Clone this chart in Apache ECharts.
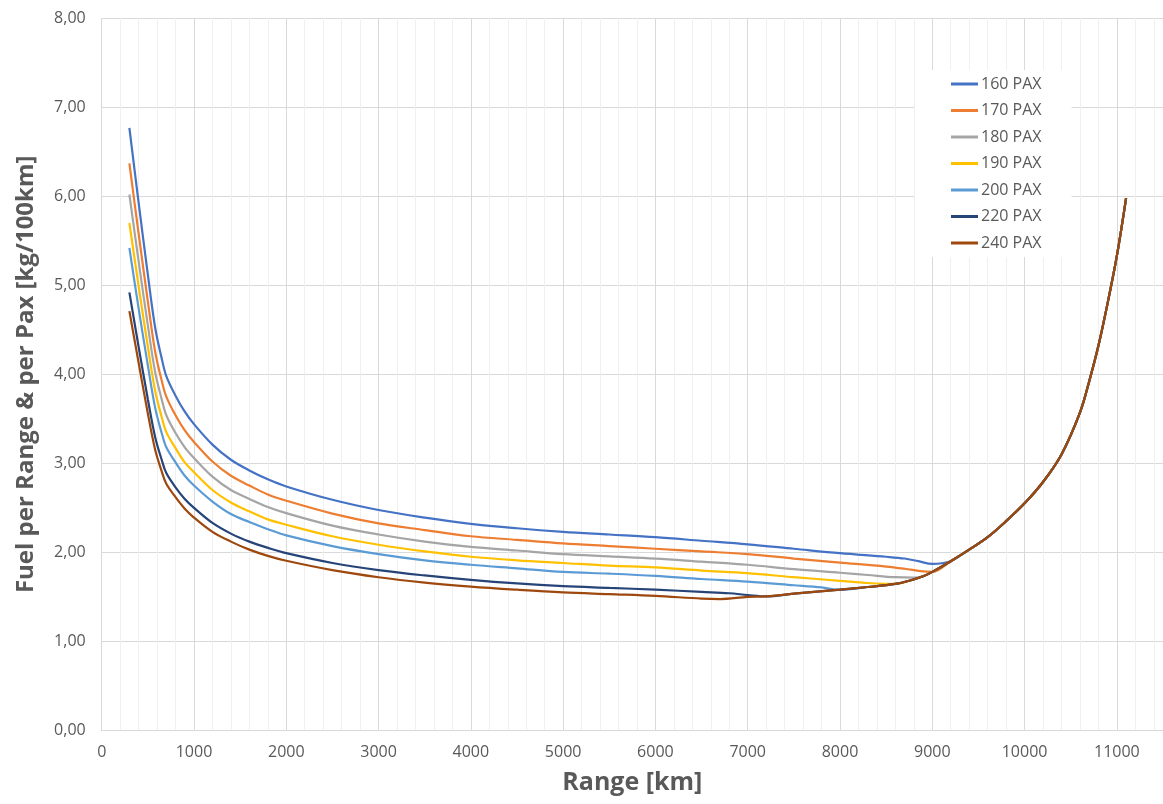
<!DOCTYPE html>
<html><head><meta charset="utf-8">
<script src="https://cdn.jsdelivr.net/npm/echarts@6/dist/echarts.min.js"></script>
<style>html,body{margin:0;padding:0;background:#fff}#c{width:1163px;height:804px}</style>
</head><body><div id="c"></div>
<script>
const seriesNames = ['160 PAX','170 PAX','180 PAX','190 PAX','200 PAX','220 PAX','240 PAX'];
const seriesColors = ['#4472C4','#ED7D31','#A5A5A5','#FFC000','#5B9BD5','#264478','#9E480E'];

const pax160 = [[300,6.77],[400,5.93],[500,5.12],[580,4.52],[650,4.18],[700,3.98],[800,3.76],[900,3.58],[1000,3.44],[1200,3.21],[1400,3.04],[1600,2.92],[1800,2.82],[2000,2.74],[2500,2.59],[3000,2.475],[3500,2.39],[4000,2.32],[4500,2.27],[5000,2.23],[5500,2.20],[6000,2.17],[6500,2.13],[7000,2.09],[7500,2.04],[8000,1.99],[8500,1.95],[8700,1.93],[8850,1.90],[9000,1.87],[9120,1.88]];
const pax170 = [[300,6.37],[400,5.58],[500,4.82],[580,4.25],[650,3.93],[700,3.75],[800,3.54],[900,3.37],[1000,3.24],[1200,3.02],[1400,2.86],[1600,2.75],[1800,2.65],[2000,2.58],[2500,2.435],[3000,2.325],[3500,2.25],[4000,2.18],[4500,2.14],[5000,2.10],[5500,2.07],[6000,2.04],[6500,2.01],[7000,1.98],[7500,1.93],[8000,1.885],[8500,1.84],[8700,1.815],[8900,1.785]];
const pax180 = [[300,6.02],[400,5.27],[500,4.55],[580,4.02],[650,3.72],[700,3.54],[800,3.34],[900,3.18],[1000,3.06],[1200,2.85],[1400,2.70],[1600,2.60],[1800,2.51],[2000,2.44],[2500,2.30],[3000,2.20],[3500,2.12],[4000,2.06],[4500,2.02],[5000,1.98],[5500,1.955],[6000,1.93],[6500,1.895],[7000,1.86],[7500,1.81],[8000,1.77],[8300,1.745],[8600,1.72],[8800,1.715]];
const pax190 = [[300,5.70],[400,4.99],[500,4.31],[580,3.81],[650,3.52],[700,3.35],[800,3.17],[900,3.01],[1000,2.90],[1200,2.70],[1400,2.56],[1600,2.46],[1800,2.37],[2000,2.31],[2500,2.18],[3000,2.085],[3500,2.01],[4000,1.95],[4500,1.91],[5000,1.88],[5500,1.85],[6000,1.83],[6500,1.795],[7000,1.765],[7500,1.72],[8000,1.68],[8300,1.655]];
const pax200 = [[300,5.42],[400,4.74],[500,4.10],[580,3.62],[650,3.34],[700,3.18],[800,3.01],[900,2.86],[1000,2.75],[1200,2.57],[1400,2.43],[1600,2.34],[1800,2.26],[2000,2.19],[2500,2.07],[3000,1.98],[3500,1.91],[4000,1.86],[4500,1.82],[5000,1.78],[5500,1.76],[6000,1.735],[6500,1.70],[7000,1.67],[7500,1.63],[7800,1.605]];
const pax220 = [[300,4.92],[400,4.31],[500,3.72],[580,3.29],[650,3.04],[700,2.89],[800,2.73],[900,2.60],[1000,2.50],[1200,2.33],[1400,2.21],[1600,2.12],[1800,2.05],[2000,1.99],[2500,1.88],[3000,1.80],[3500,1.74],[4000,1.69],[4500,1.65],[5000,1.62],[5500,1.60],[6000,1.58],[6500,1.555],[6800,1.54],[7000,1.52]];
const pax240 = [[300,4.71],[400,4.13],[500,3.56],[580,3.15],[650,2.91],[700,2.77],[800,2.62],[900,2.49],[1000,2.39],[1200,2.23],[1400,2.12],[1600,2.03],[1800,1.96],[2000,1.905],[2500,1.80],[3000,1.72],[3500,1.66],[4000,1.615],[4500,1.58],[5000,1.55],[5500,1.53],[6000,1.51],[6500,1.48],[6700,1.475]];
// shared range-limited branch that all payloads follow at long range
const commonTail = [[7000,1.50],[7200,1.505],[7500,1.535],[8000,1.58],[8300,1.61],[8600,1.645],[8750,1.68],[8900,1.73],[9000,1.78],[9200,1.90],[9400,2.03],[9600,2.17],[9800,2.35],[10000,2.55],[10200,2.79],[10400,3.10],[10600,3.57],[10700,3.92],[10800,4.32],[10900,4.80],[11000,5.33],[11100,5.98]];

const ownData = [pax160,pax170,pax180,pax190,pax200,pax220,pax240];
function withTail(own){
  const last = own[own.length-1][0];
  return own.concat(commonTail.filter(p => p[0] > last + 50));
}

const txt = '#595959';
const font = 'Open Sans';
const chart = echarts.init(document.getElementById('c'), null, {renderer:'canvas'});
chart.setOption({
  animation:false,
  backgroundColor:'#fff',
  textStyle:{fontFamily:font},
  grid:{left:101.7, top:18.3, right:0, bottom:73.7, containLabel:false},
  legend:{
    orient:'vertical', left:915, top:70,
    padding:[5,30,5,36],
    backgroundColor:'#fff',
    itemWidth:27, itemHeight:3, itemGap:8.5,
    icon:'rect',
    textStyle:{color:txt, fontSize:16, lineHeight:18, fontFamily:font, padding:[0,0,0,-2]},
    data:seriesNames
  },
  xAxis:{
    type:'value', min:0, max:11500, interval:1000,
    name:'Range [km]', nameLocation:'middle', nameGap:40,
    nameTextStyle:{color:txt, fontSize:25, fontWeight:'bold', fontFamily:font},
    axisLine:{show:true, lineStyle:{color:'#D9D9D9', width:1}},
    axisTick:{show:false},
    axisLabel:{color:txt, fontSize:16, margin:14, showMaxLabel:false, fontFamily:font,
      formatter:v => String(v)},
    splitLine:{show:true, lineStyle:{color:'#D9D9D9', width:1}},
    minorTick:{show:false, splitNumber:5},
    minorSplitLine:{show:true, lineStyle:{color:'#F0F0F0', width:1}}
  },
  yAxis:{
    type:'value', min:0, max:8, interval:1,
    name:'Fuel per Range & per Pax [kg/100km]', nameLocation:'middle', nameGap:64,
    nameTextStyle:{color:txt, fontSize:24, fontWeight:'bold', fontFamily:font},
    axisLine:{show:false}, axisTick:{show:false},
    axisLabel:{color:txt, fontSize:16, margin:16, fontFamily:font,
      formatter:v => v.toFixed(2).replace('.', ',')},
    splitLine:{show:true, lineStyle:{color:'#D9D9D9', width:1}}
  },
  series: seriesNames.map((n,i) => ({
    name:n, type:'line', data:withTail(ownData[i]),
    showSymbol:false, smooth:0.35,
    lineStyle:{width:2.2, color:seriesColors[i]},
    itemStyle:{color:seriesColors[i]},
    z:2+i
  }))
});
</script></body></html>
